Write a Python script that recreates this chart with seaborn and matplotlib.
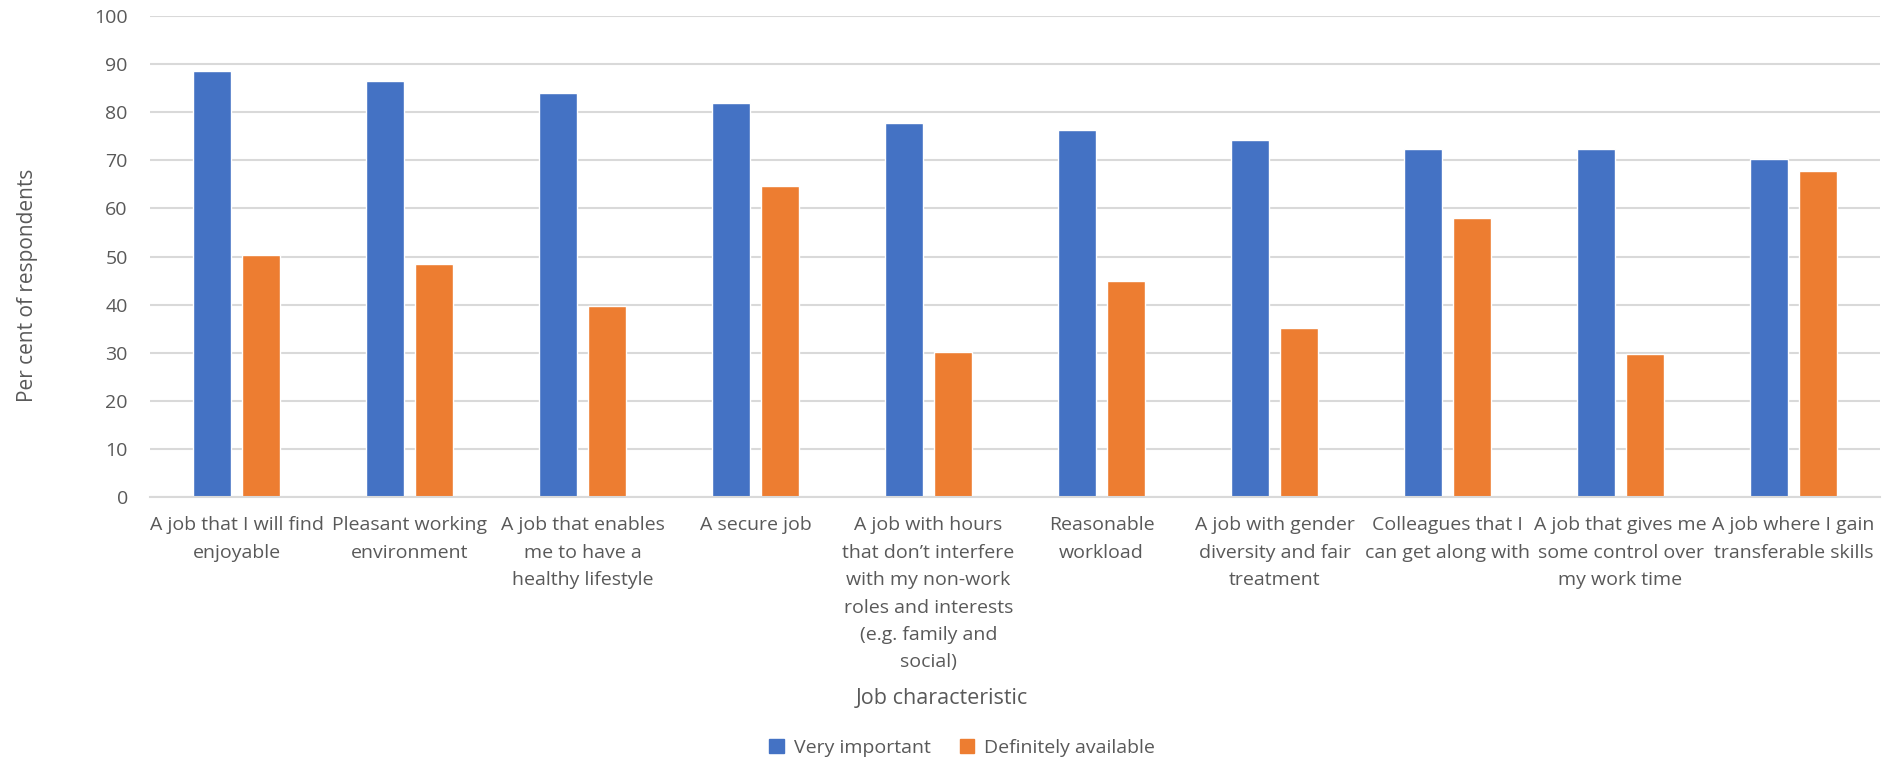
import matplotlib
matplotlib.use("Agg")
import matplotlib.pyplot as plt
import seaborn as sns
import pandas as pd

categories = [
    "A job that I will find\nenjoyable",
    "Pleasant working\nenvironment",
    "A job that enables\nme to have a\nhealthy lifestyle",
    "A secure job",
    "A job with hours\nthat don\u2019t interfere\nwith my non-work\nroles and interests\n(e.g. family and\nsocial)",
    "Reasonable\nworkload",
    "A job with gender\ndiversity and fair\ntreatment",
    "Colleagues that I\ncan get along with",
    "A job that gives me\nsome control over\nmy work time",
    "A job where I gain\ntransferable skills",
]
very_important = [88.5, 86.5, 83.9, 81.9, 77.8, 76.4, 74.3, 72.3, 72.3, 70.2]
definitely_available = [50.4, 48.5, 39.8, 64.7, 30.2, 44.9, 35.2, 58.1, 29.7, 67.7]
series_names = ["Very important", "Definitely available"]
y_ticks = list(range(0, 101, 10))

df = pd.DataFrame({
    "category": categories * 2,
    "value": very_important + definitely_available,
    "series": [series_names[0]] * len(categories) + [series_names[1]] * len(categories),
})

sns.set_theme(style="white")
plt.rcParams["font.family"] = ["Open Sans", "DejaVu Sans"]
text_color = "#595959"
colors = ["#4472C4", "#ED7D31"]

fig = plt.figure(figsize=(18.94, 7.63), dpi=100)
ax = fig.add_axes([150 / 1894, 1 - 497 / 763, (1880 - 150) / 1894, (497 - 16) / 763])

sns.barplot(
    data=df, x="category", y="value", hue="series", order=categories,
    hue_order=series_names, palette=colors,
    width=0.57, gap=0.23, ax=ax, legend=False, saturation=1,
)

ax.set_ylim(0, 100)
ax.set_xlim(-0.5, len(categories) - 0.5)
ax.set_yticks(y_ticks)
ax.yaxis.grid(True, color="#d9d9d9", linewidth=1.5)
ax.set_axisbelow(True)
for side in ["top", "right", "left"]:
    ax.spines[side].set_visible(False)
ax.spines["bottom"].set_color("#d9d9d9")
ax.spines["bottom"].set_linewidth(1.5)
ax.tick_params(axis="both", length=0, colors=text_color, labelsize=14)
ax.tick_params(axis="y", pad=16)
ax.tick_params(axis="x", pad=14)
for lbl in ax.get_xticklabels():
    lbl.set_linespacing(1.67)
    lbl.set_verticalalignment("top")

ax.set_xlabel("")
ax.set_ylabel("")
fig.text(28 / 1894, 1 - 285 / 763, "Per cent of respondents", rotation=90,
         ha="center", va="center", fontsize=15, color=text_color)
fig.text(942 / 1894, 1 - 698 / 763, "Job characteristic",
         ha="center", va="center", fontsize=15.5, color=text_color)

handles = [plt.Rectangle((0, 0), 1, 1, color=c) for c in colors]
fig.legend(handles, series_names, loc="center", bbox_to_anchor=(962 / 1894, 1 - 748 / 763),
           ncol=2, frameon=False, fontsize=14, handlelength=0.75, handleheight=0.75,
           handletextpad=0.5, columnspacing=1.5, labelcolor=text_color)

fig.savefig("out.png", dpi=100)
